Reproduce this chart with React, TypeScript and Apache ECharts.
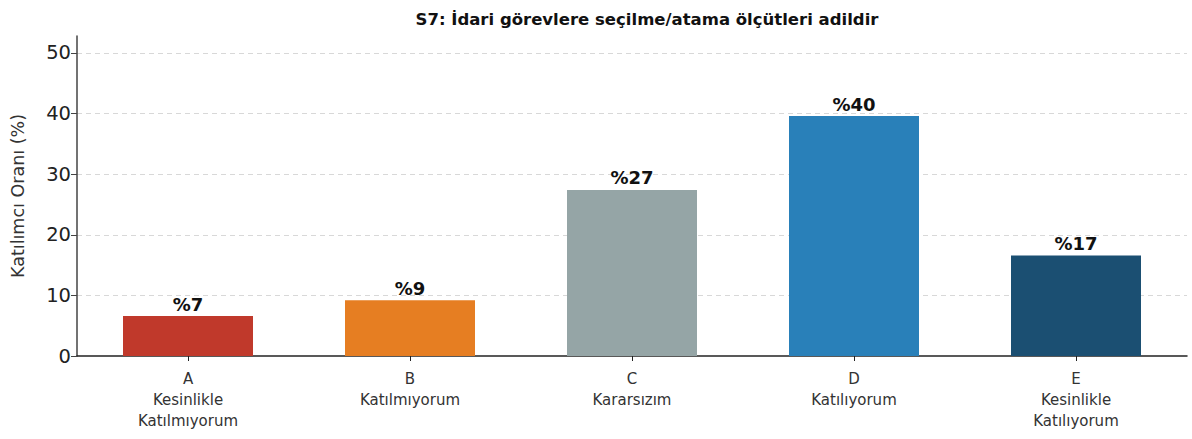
import React, { useEffect, useRef } from "react";
import * as echarts from "echarts";

const categories = [
  "A\nKesinlikle\nKatılmıyorum",
  "B\nKatılmıyorum",
  "C\nKararsızım",
  "D\nKatılıyorum",
  "E\nKesinlikle\nKatılıyorum",
];
const values = [6.6, 9.2, 27.4, 39.6, 16.6];
const barColors = ["#c0392b", "#e67e22", "#95a5a6", "#2980b9", "#1b4f72"];
const yTicks = [0, 10, 20, 30, 40, 50];
const titleText = "S7: İdari görevlere seçilme/atama ölçütleri adildir";
const yName = "Katılımcı Oranı (%)";

const FONT = "'DejaVu Sans', 'Noto Sans', sans-serif";

export default function App() {
  const ref = useRef<HTMLDivElement>(null);
  useEffect(() => {
    document.body.style.margin = "0";
    const chart = echarts.init(ref.current!, null, { renderer: "svg" });
    chart.setOption({
      animation: false,
      backgroundColor: "#ffffff",
      textStyle: { fontFamily: FONT },
      title: {
        text: titleText,
        left: 642,
        textAlign: "center",
        top: 6,
        textStyle: { fontFamily: FONT, fontSize: 16.5, fontWeight: "bold", color: "#111" },
      },
      grid: { left: 77, right: 5, top: 36, bottom: 83, containLabel: false },
      xAxis: {
        type: "category",
        data: categories,
        axisLine: { lineStyle: { color: "#222", width: 1.5 } },
        axisTick: { show: true, alignWithLabel: true, length: 5, lineStyle: { color: "#222" } },
        axisLabel: { fontFamily: FONT, fontSize: 15, color: "#333", lineHeight: 21, margin: 12 },
      },
      yAxis: {
        type: "value",
        min: 0,
        max: 52.8,
        interval: 10,
        name: yName,
        nameLocation: "middle",
        nameGap: 50,
        nameTextStyle: { fontFamily: FONT, fontSize: 17.5, color: "#333" },
        axisLine: { show: true, lineStyle: { color: "#444", width: 1.5 } },
        axisTick: { show: true, length: 6, customValues: yTicks, lineStyle: { color: "#444" } },
        axisLabel: { fontFamily: FONT, fontSize: 19.5, color: "#222", margin: 6, customValues: yTicks },
        splitLine: {
          show: true,
          showMinLine: false,
          showMaxLine: true,
          lineStyle: { color: "#d8d8d8", type: [5, 4], width: 1 },
        },
      },
      series: [
        {
          type: "bar",
          barWidth: 130,
          data: values.map((v, i) => ({ value: v, itemStyle: { color: barColors[i] } })),
          label: {
            show: true,
            position: "top",
            distance: 3,
            fontFamily: FONT,
            fontSize: 18,
            fontWeight: "bold",
            color: "#111",
            formatter: (p: any) => "%" + Math.round(p.value),
          },
        },
      ],
    });
    return () => chart.dispose();
  }, []);
  return <div ref={ref} style={{ width: 1192, height: 439 }} />;
}
